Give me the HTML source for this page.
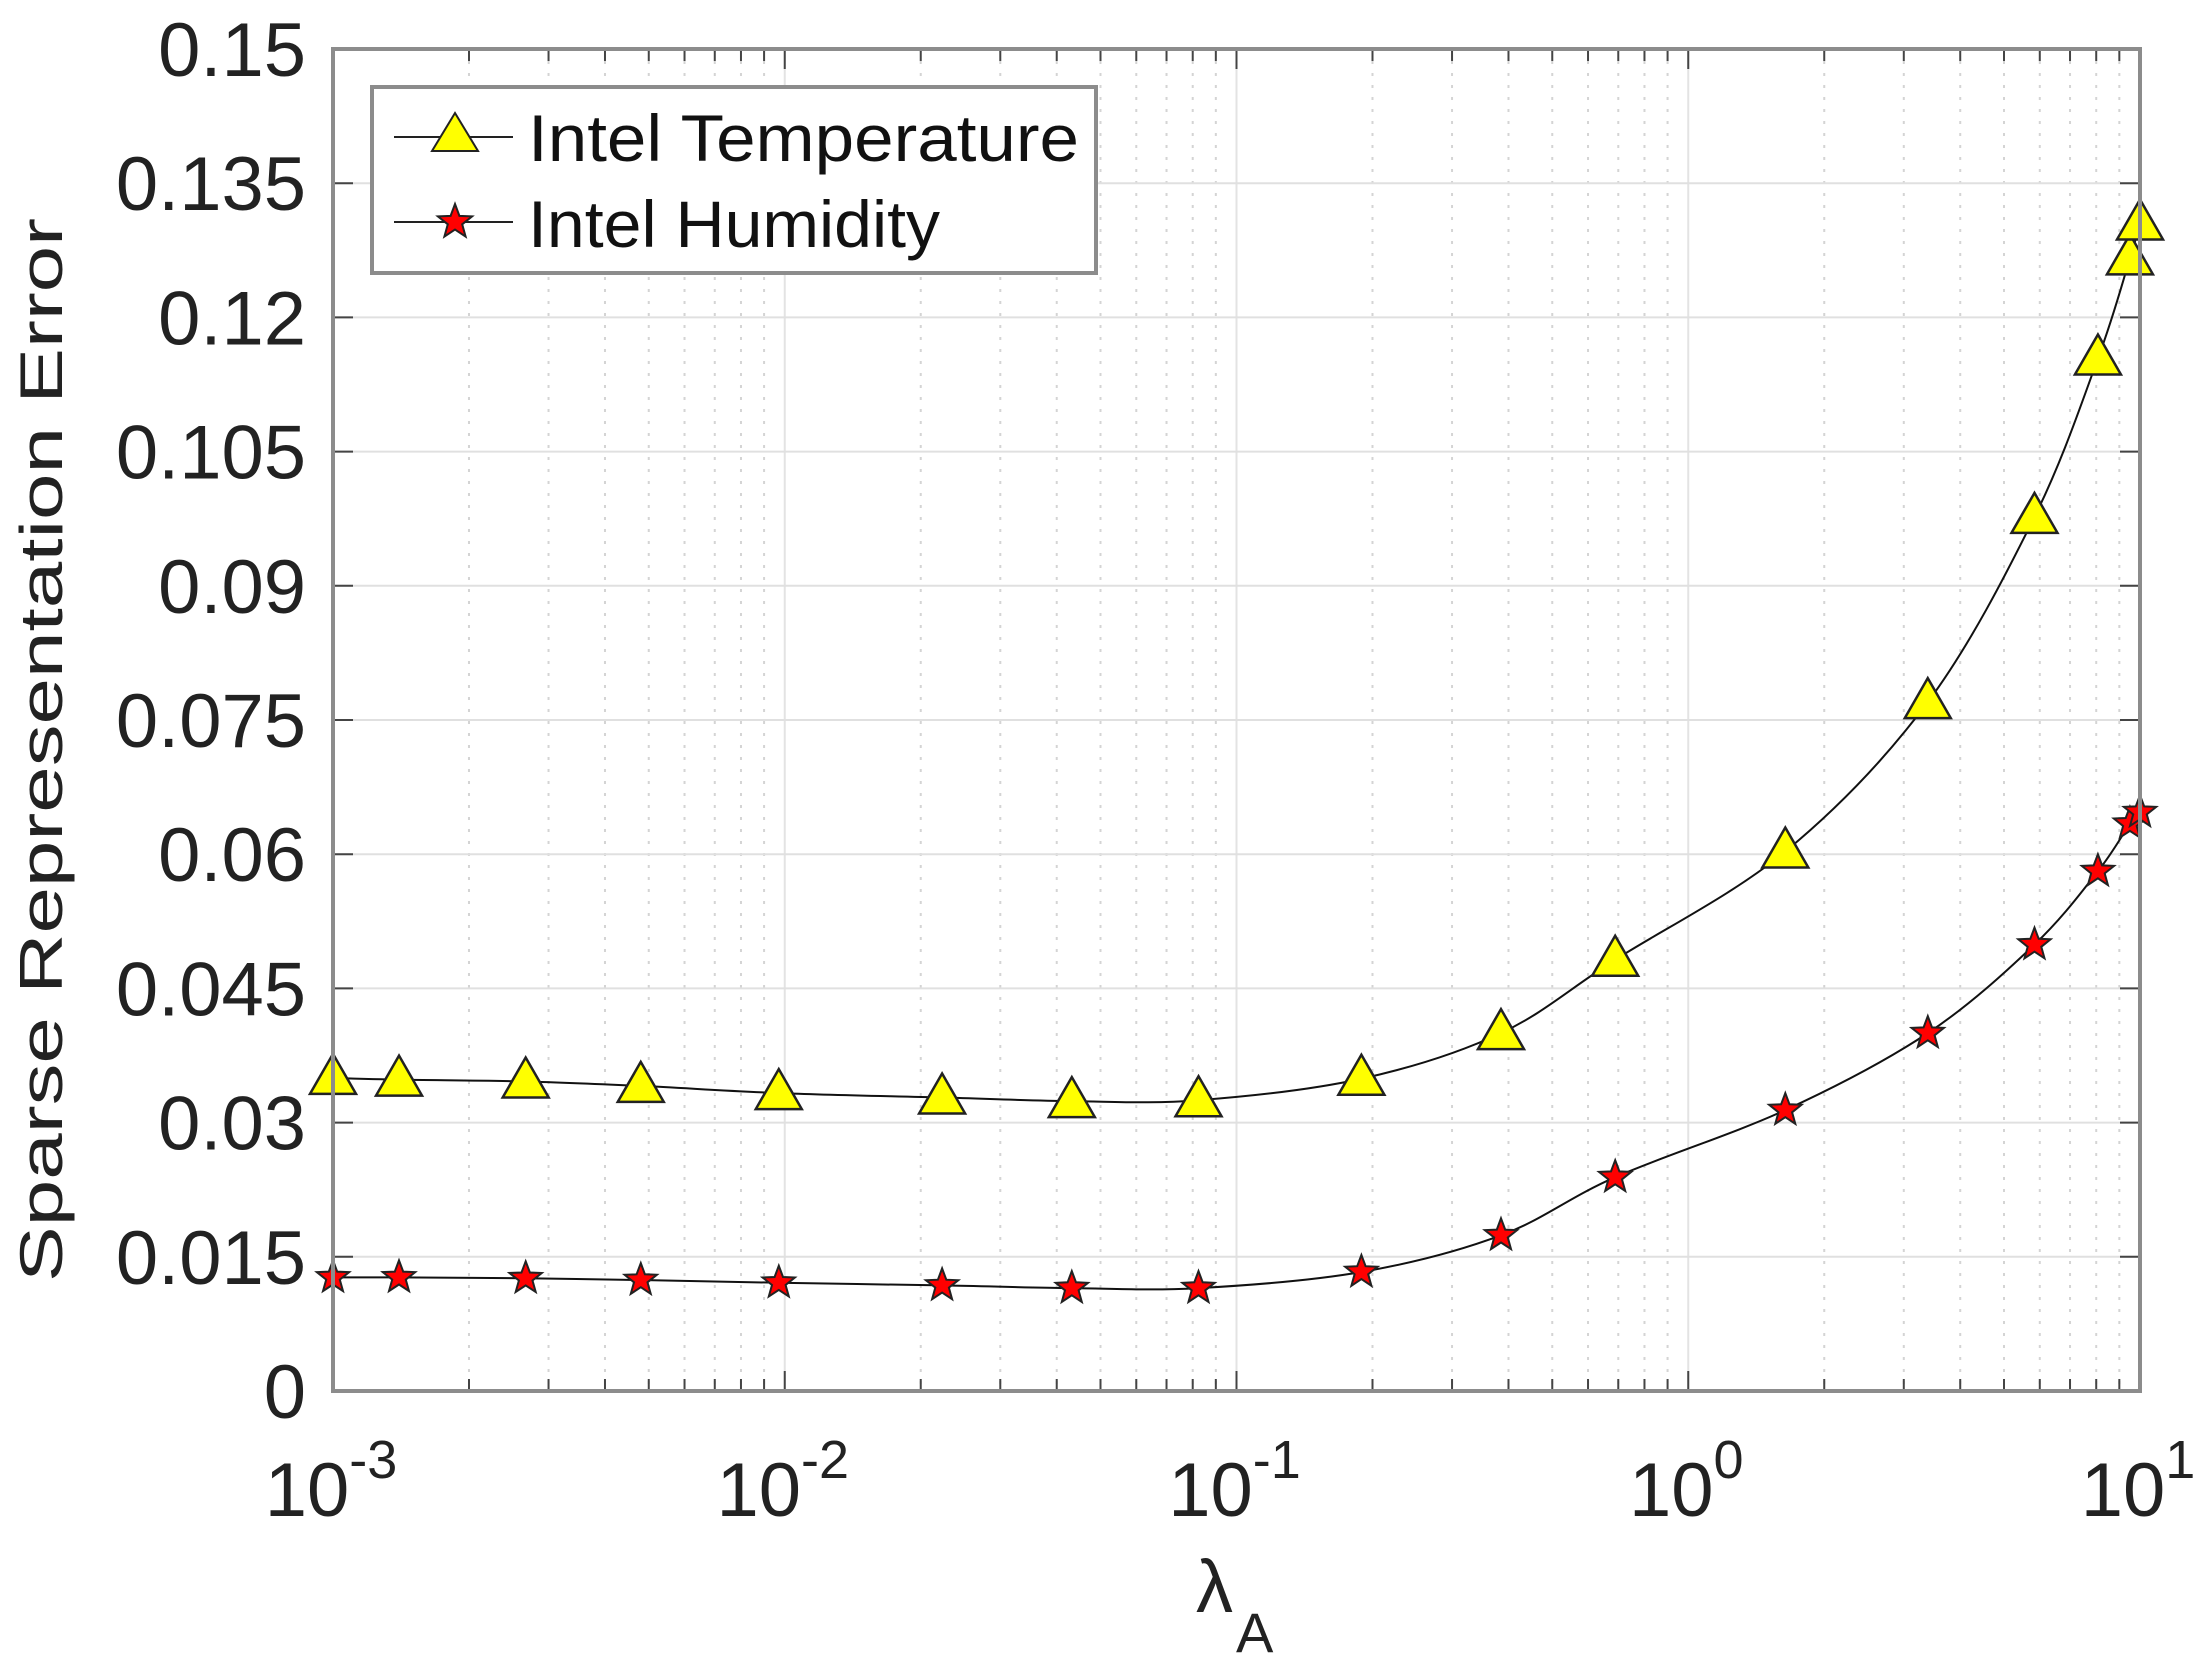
<!DOCTYPE html>
<html><head><meta charset="utf-8"><style>
html,body{margin:0;padding:0;background:#fff;}
svg{display:block;font-family:"Liberation Sans",Arial,sans-serif;}
</style></head><body>
<svg id="chart" width="2209" height="1672" viewBox="0 0 2209 1672">
<g id="grid"></g>
<g id="series"></g>
<g id="axes"></g>
<text transform="translate(62,750) rotate(-90)" text-anchor="middle" font-size="60" textLength="1064" lengthAdjust="spacingAndGlyphs" fill="#222">Sparse Representation Error</text>
<g fill="#222">
<text x="1196" y="1612" font-size="74">λ</text>
<text x="1236" y="1652" font-size="56">A</text>
</g>
<g>
<rect x="372" y="87" width="724" height="186" fill="#fff" stroke="#8c8c8c" stroke-width="4"/>
<g>
<line x1="394" y1="137" x2="513" y2="137" stroke="#222" stroke-width="2"/>
<polygon points="455,113 478,151 432,151" fill="#ffff00" stroke="#222" stroke-width="2"/>
<text x="528" y="161" font-size="66" textLength="551" lengthAdjust="spacingAndGlyphs" fill="#111">Intel Temperature</text>
</g>
<g>
<line x1="394" y1="222" x2="513" y2="222" stroke="#222" stroke-width="2"/>
<polygon id="legstar" fill="#ff0000" stroke="#222" stroke-width="2"/>
<text x="528" y="247" font-size="66" textLength="412" lengthAdjust="spacingAndGlyphs" fill="#111">Intel Humidity</text>
</g>
</g>
</svg>
<script>
const lambdaValues = [0.001,0.0014,0.00267,0.0048,0.0097,0.0223,0.0432,0.0824,0.189,0.385,0.689,1.64,3.39,5.84,8.07,9.5,10];
const temperatureErr = [0.0350,0.0348,0.0346,0.0341,0.0333,0.0328,0.0324,0.0325,0.0349,0.0400,0.0482,0.0603,0.0770,0.0977,0.1154,0.1266,0.1305];
const humidityErr = [0.0127,0.0127,0.0126,0.0124,0.0121,0.0118,0.0115,0.0115,0.0133,0.0174,0.0239,0.0314,0.0400,0.0499,0.0581,0.0634,0.0647];
const yTicks = [0,0.015,0.03,0.045,0.06,0.075,0.09,0.105,0.12,0.135,0.15];
const yTickLabels = ["0","0.015","0.03","0.045","0.06","0.075","0.09","0.105","0.12","0.135","0.15"];
const xDecades = [-3,-2,-1,0,1];

const NS="http://www.w3.org/2000/svg";
const L=333,R=2140,T=49,B=1391;
const xMin=-3,xMax=1,yMin=0,yMax=0.15;
function xs(v){return L+(Math.log10(v)-xMin)/(xMax-xMin)*(R-L);}
function ys(v){return B-(v-yMin)/(yMax-yMin)*(B-T);}
function mk(tag,attrs,parent){const e=document.createElementNS(NS,tag);for(const k in attrs)e.setAttribute(k,attrs[k]);parent.appendChild(e);return e;}
const grid=document.getElementById('grid'),axes=document.getElementById('axes'),series=document.getElementById('series');

// minor x grid
for(let d=xMin;d<xMax;d++){for(let m=2;m<=9;m++){const x=xs(m*Math.pow(10,d));
const g=mk('line',{x1:x,y1:T,x2:x,y2:B,stroke:'#d4d4d4','stroke-width':2,'stroke-dasharray':'3,9'},grid);


const t1=mk('line',{x1:x,y1:B,x2:x,y2:B-12,stroke:'#444','stroke-width':2},axes);


const t2=mk('line',{x1:x,y1:T,x2:x,y2:T+12,stroke:'#444','stroke-width':2},axes);


}}
// major x grid + labels
xDecades.forEach(d=>{const x=xs(Math.pow(10,d));
const g=mk('line',{x1:x,y1:T,x2:x,y2:B,stroke:'#e3e3e3','stroke-width':2},grid);


const t1=mk('line',{x1:x,y1:B,x2:x,y2:B-20,stroke:'#444','stroke-width':2},axes);


const t2=mk('line',{x1:x,y1:T,x2:x,y2:T+20,stroke:'#444','stroke-width':2},axes);


const tx=mk('text',{x:x-2,y:1516,'font-size':76,'text-anchor':'middle',fill:'#222'},axes);


const b=document.createElementNS(NS,'tspan');b.textContent='10';tx.appendChild(b);
const s=document.createElementNS(NS,'tspan');s.setAttribute('dy','-38');s.setAttribute('font-size','54');s.textContent=String(d).replace('-','-');tx.appendChild(s);
});
// y grid + labels
yTicks.forEach((v,i)=>{const y=ys(v);
const g=mk('line',{x1:L,y1:y,x2:R,y2:y,stroke:'#e0e0e0','stroke-width':2},grid);


const t1=mk('line',{x1:L,y1:y,x2:L+20,y2:y,stroke:'#444','stroke-width':2},axes);


const t2=mk('line',{x1:R,y1:y,x2:R-20,y2:y,stroke:'#444','stroke-width':2},axes);


const tx=mk('text',{x:306,y:y+27,'font-size':76,'text-anchor':'end',fill:'#222'},axes);


tx.textContent=yTickLabels[i];
});
const box=mk('rect',{x:L,y:T,width:R-L,height:B-T,fill:'none',stroke:'#8c8c8c','stroke-width':4},axes);



function smoothPath(pts){let d='M'+pts[0][0]+','+pts[0][1];
for(let i=0;i<pts.length-1;i++){const p0=pts[i-1]||pts[i],p1=pts[i],p2=pts[i+1],p3=pts[i+2]||p2;
const c1=[p1[0]+(p2[0]-p0[0])/6,p1[1]+(p2[1]-p0[1])/6],c2=[p2[0]-(p3[0]-p1[0])/6,p2[1]-(p3[1]-p1[1])/6];
d+=' C'+c1+' '+c2+' '+p2;}return d;}
function starPts(cx,cy,r){const a=[];for(let i=0;i<10;i++){const rr=i%2?r*0.42:r;const ang=-Math.PI/2+i*Math.PI/5;a.push((cx+rr*Math.cos(ang)).toFixed(1)+','+(cy+rr*Math.sin(ang)).toFixed(1));}return a.join(' ');}
document.getElementById('legstar').setAttribute('points',starPts(455,222,18));

function drawSeries(vals,name,type){
const pts=lambdaValues.map((l,i)=>[xs(l),ys(vals[i])]);
const p=mk('path',{d:smoothPath(pts),fill:'none',stroke:'#111','stroke-width':2},series);


pts.forEach(q=>{let m;
if(type==='tri'){m=mk('polygon',{points:`${q[0]},${q[1]-24} ${q[0]+23},${q[1]+16} ${q[0]-23},${q[1]+16}`,fill:'#ffff00',stroke:'#222','stroke-width':2.5},series);}
else{m=mk('polygon',{points:starPts(q[0],q[1],17),fill:'#ff0000',stroke:'#222','stroke-width':2},series);}


});}
drawSeries(temperatureErr,'temperature','tri');
drawSeries(humidityErr,'humidity','star');
</script>
</body></html>
